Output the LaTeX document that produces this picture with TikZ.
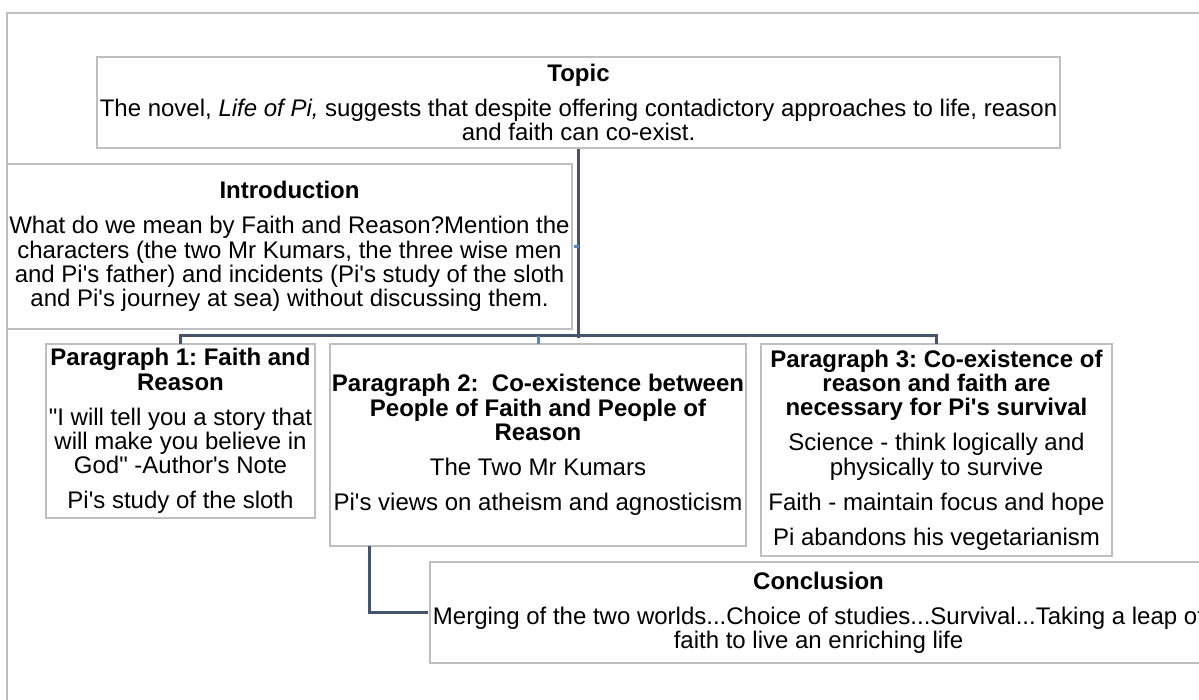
\documentclass[tikz,border=0pt]{standalone}
\usepackage{fontspec}
\newfontfamily\arialf{Liberation Sans}
\usetikzlibrary{calc}
\definecolor{boxgray}{RGB}{191,191,191}
\definecolor{conndark}{RGB}{68,84,106}
\definecolor{connlight}{RGB}{91,135,184}
\tikzset{
  box/.style={draw=boxgray, line width=2.4pt, fill=white, align=center, inner sep=0pt,
    font=\arialf\fontsize{24}{24.3}\selectfont\frenchspacing},
  conn/.style={draw=conndark, line width=3pt},
  connl/.style={draw=connlight, line width=3pt},
  frame/.style={draw=boxgray, line width=2.4pt}
}
\newcommand{\gapp}{\\[10.7pt]}
\frenchspacing
\begin{document}
\begin{tikzpicture}[x=1pt, y=-1pt]
\useasboundingbox (0,0) rectangle (1199,700);
\clip (0,0) rectangle (1199,700);
\fill[white] (0,0) rectangle (1199,700);
\draw[frame] (7,13) rectangle (1260,760);

\node[box, minimum width=963pt, minimum height=91pt] (topic) at (578.5,102.5)
 {\textbf{Topic}\gapp The novel, \textit{Life of Pi,} suggests that despite offering contadictory approaches to life, reason\\and faith can co-exist.};

\node[box, minimum width=565pt, minimum height=165pt] (intro) at (289.5,246.5)
 {\textbf{Introduction}\gapp What do we mean by Faith and Reason?Mention the\\characters (the two Mr Kumars, the three wise men\\and Pi's father) and incidents (Pi's study of the sloth\\and Pi's journey at sea) without discussing them.};

\node[box, minimum width=269pt, minimum height=174pt] (p1) at (180.5,431)
 {\textbf{Paragraph 1: Faith and}\\\textbf{Reason}\gapp "I will tell you a story that\\will make you believe in\\God" -Author's Note\gapp Pi's study of the sloth};

\node[box, minimum width=416pt, minimum height=202pt] (p2) at (538,445)
 {\textbf{Paragraph 2:~ Co-existence between}\\\textbf{People of Faith and People of}\\\textbf{Reason}\gapp The Two Mr Kumars\gapp Pi's views on atheism and agnosticism};

\node[box, minimum width=351pt, minimum height=212pt] (p3) at (936.5,450)
 {\textbf{Paragraph 3: Co-existence of}\\\textbf{reason and faith are}\\\textbf{necessary for Pi's survival}\gapp Science - think logically and\\physically to survive\gapp Faith - maintain focus and hope\gapp Pi abandons his vegetarianism};

\node[box, minimum width=777pt, minimum height=101pt] (concl) at (818.5,612.5)
 {\textbf{Conclusion}\gapp Merging of the two worlds...Choice of studies...Survival...Taking a leap of\\faith to live an enriching life};

\coordinate (j) at ($(topic.south)+(0,188.5)$);
\draw[conn] (topic.south) -- (j);
\draw[conn] ($(p1.north)+(0,1.2)$) -- ++(0,-8.2) -| ($(p3.north)+(0,1.2)$);
\draw[connl] ($(p2.north)+(0,1.2)$) -- ++(0,-8.2);
\draw[connl] ($(intro.east)+(1.2,0)$) -- (intro.east -| j);
\draw[conn] ($(p2.south west)+(41,-1.2)$) |- ($(concl.west)+(-1.2,0)$);
\end{tikzpicture}
\end{document}
